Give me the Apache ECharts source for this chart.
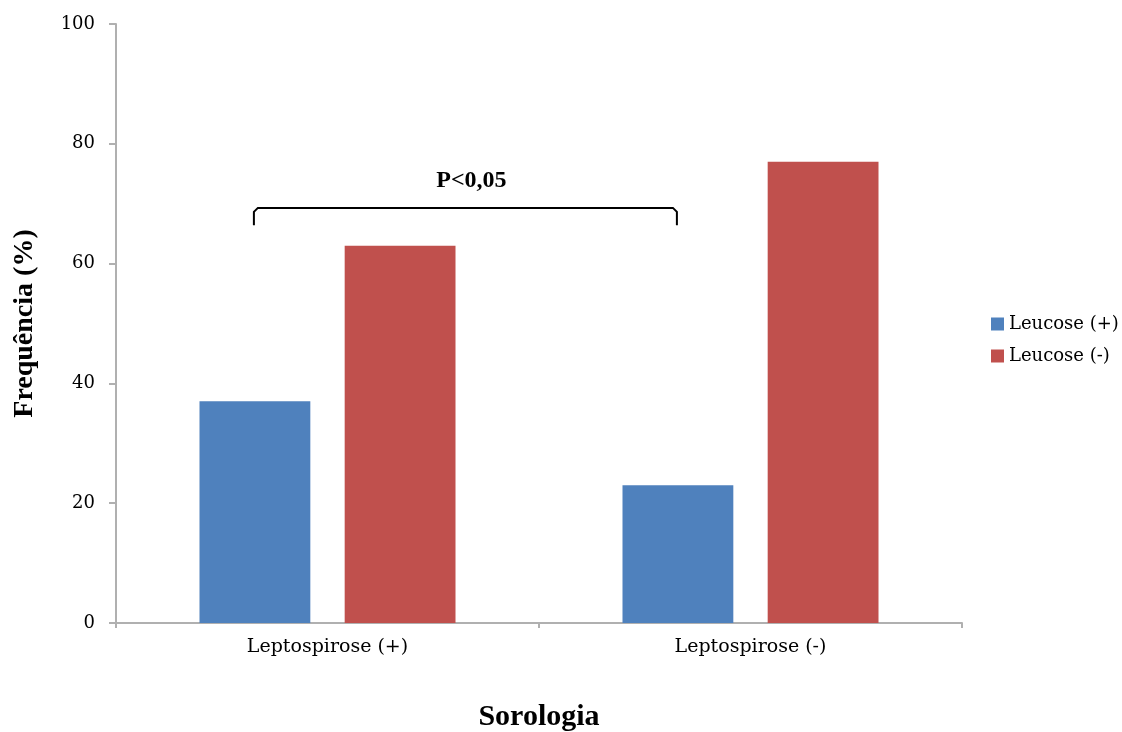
<!DOCTYPE html>
<html><head><meta charset="utf-8">
<script src="https://cdn.jsdelivr.net/npm/echarts@6/dist/echarts.min.js"></script>
<style>html,body{margin:0;padding:0;background:#fff}#c{width:1122px;height:732px}</style>
</head><body><div id="c"></div>
<script>
const categories = ['Leptospirose (+)', 'Leptospirose (-)'];
const leucosePos = [37, 23];
const leucoseNeg = [63, 77];
const yTicks = [0, 20, 40, 60, 80, 100];
const bracket = { from: 0, to: 1, top: 69.3, foot: 66.4, labelY: 73.8, text: 'P<0,05' };

const serif = 'Liberation Serif, Times New Roman, serif';
const wide = 'DejaVu Serif, serif';
const chart = echarts.init(document.getElementById('c'));
chart.setOption({
  animation: false,
  grid: { left: 116, right: 160, top: 24, bottom: 109, containLabel: false, outerBoundsMode: 'none' },
  legend: {
    orient: 'vertical', left: 986, top: 310, itemWidth: 13, itemHeight: 13, itemGap: 14,
    icon: 'rect',
    textStyle: { fontFamily: wide, fontSize: 18, color: '#000' },
    data: ['Leucose (+)', 'Leucose (-)']
  },
  xAxis: {
    type: 'category', data: categories,
    axisLine: { lineStyle: { color: '#b0b0b0', width: 2 } },
    axisTick: { show: true, length: 5, lineStyle: { color: '#b0b0b0', width: 2 } },
    axisLabel: { fontFamily: wide, fontSize: 19, color: '#000', margin: 15 },
    name: 'Sorologia', nameLocation: 'middle', nameGap: 79,
    nameTextStyle: { fontFamily: serif, fontSize: 30, fontWeight: 'bold', color: '#000' }
  },
  yAxis: {
    type: 'value', min: 0, max: 100, interval: 20,
    splitLine: { show: false },
    axisLine: { show: true, lineStyle: { color: '#b0b0b0', width: 2 } },
    axisTick: { show: true, length: 7, lineStyle: { color: '#b0b0b0', width: 2 } },
    axisLabel: { fontFamily: wide, fontSize: 18, color: '#000', margin: 21,
      formatter: v => yTicks.includes(v) ? String(v) : '' },
    name: 'Frequência (%)', nameLocation: 'middle', nameGap: 77, nameRotate: 90,
    nameTextStyle: { fontFamily: serif, fontSize: 28, fontWeight: 'bold', color: '#000' }
  },
  series: [
    { name: 'Leucose (+)', type: 'bar', data: leucosePos, barWidth: '26.2%', barGap: '31%',
      itemStyle: { color: '#4f81bd' } },
    { name: 'Leucose (-)', type: 'bar', data: leucoseNeg, barWidth: '26.2%',
      itemStyle: { color: '#c0504d' } },
    { name: 'bracket', type: 'custom', silent: true, z: 10,
      data: [[bracket.from, bracket.to, bracket.top, bracket.foot, bracket.labelY]],
      renderItem: function (params, api) {
        const bw = api.size([1, 0])[0];
        const off = -0.174 * bw;
        const a = api.coord([api.value(0), api.value(2)]);
        const b = api.coord([api.value(1), api.value(2)]);
        const f = api.coord([api.value(0), api.value(3)]);
        const t = api.coord([api.value(0), api.value(4)]);
        const x1 = a[0] + off, x2 = b[0] + off, y = a[1], yf = f[1];
        const r = 4;
        return { type: 'group', children: [
          { type: 'polyline', shape: { points: [[x1, yf], [x1, y + r], [x1 + r, y], [x2 - r, y], [x2, y + r], [x2, yf]] },
            style: { stroke: '#000', lineWidth: 2, fill: null } },
          { type: 'text', x: (x1 + x2) / 2 + 6, y: t[1],
            style: { text: bracket.text, font: 'bold 24px ' + serif, fill: '#000', align: 'center', verticalAlign: 'middle' } }
        ]};
      }
    }
  ]
});
</script></body></html>
